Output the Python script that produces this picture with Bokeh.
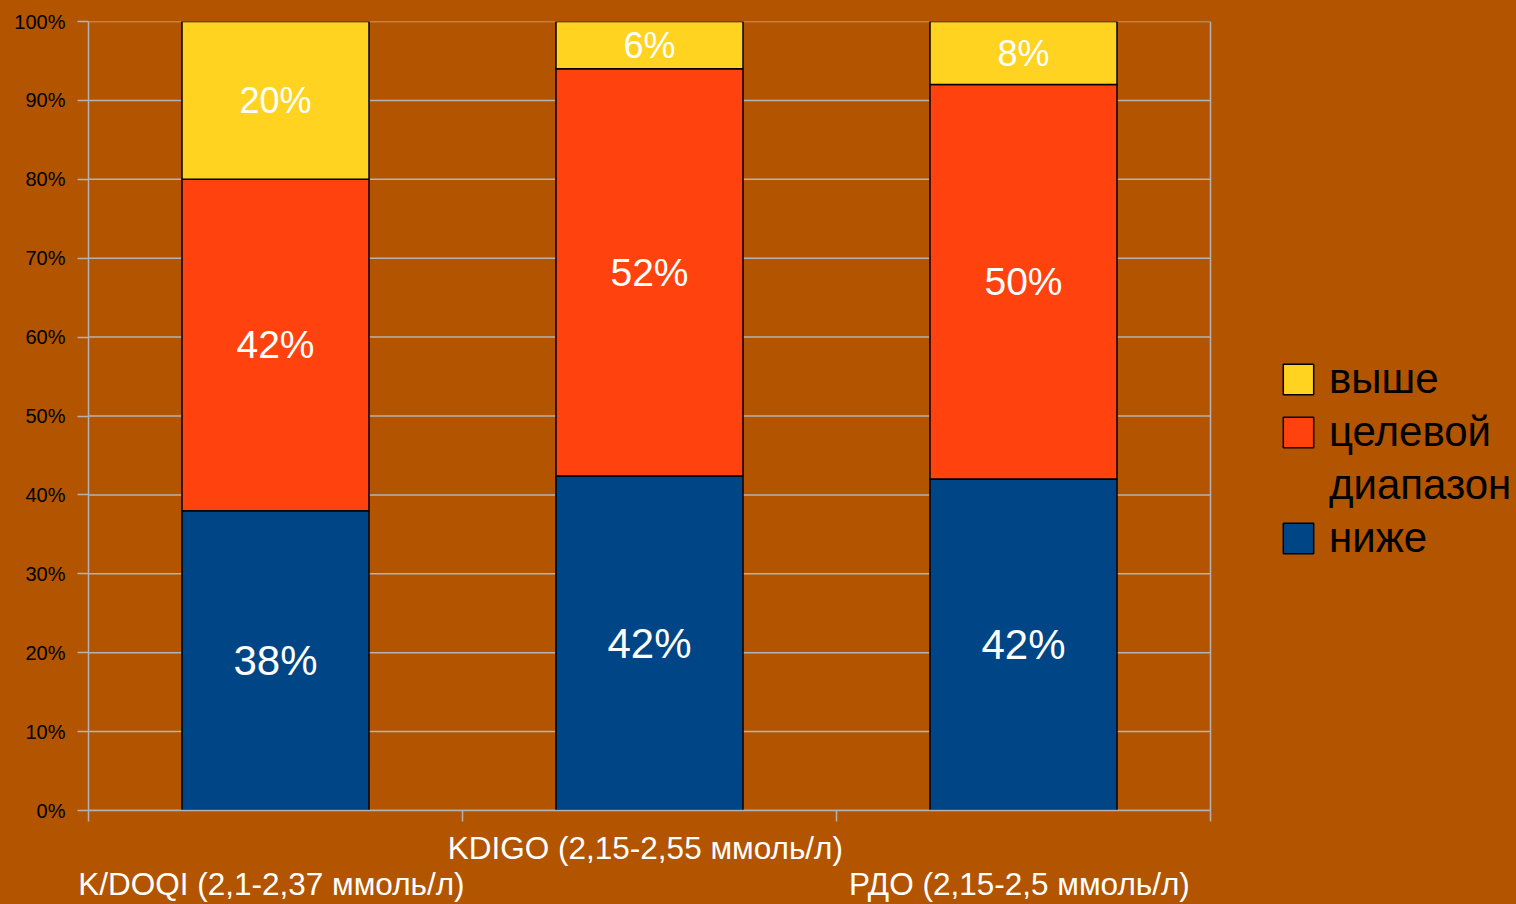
from bokeh.plotting import figure
from bokeh.models import (ColumnDataSource, FixedTicker, Legend, LegendItem, LinearAxis,
                          CustomJSTickFormatter, Range1d)
from bokeh.core.properties import value
from bokeh.embed import file_html
from bokeh.resources import INLINE

# ---- data ----
categories = ["K/DOQI (2,1-2,37 ммоль/л)", "KDIGO (2,15-2,55 ммоль/л)", "РДО (2,15-2,5 ммоль/л)"]
below = [38, 42.4, 42]      # ниже
target = [42, 51.6, 50]     # целевой диапазон
above = [20, 6.0, 8]        # выше
legend_labels = ["выше", "целевой", "диапазон", "ниже"]
y_ticks = [0, 10, 20, 30, 40, 50, 60, 70, 80, 90, 100]

colors = ["#004586", "#FF420E", "#FFD320"]
BG = "#B25400"
GRID = "#B3B3B3"
FONT = "Liberation Sans"

W, H = 1516, 904
LEFT, TOP, BOTTOM = 88, 21, 92
CAT_PX = 374  # pixel width of one category slot
n = len(categories)
frame_w = W - LEFT

xs = [i + 0.5 for i in range(n)]
src = ColumnDataSource(dict(x=xs, below=below, target=target, above=above))

p = figure(width=W, height=H, x_range=Range1d(0, frame_w / CAT_PX), y_range=Range1d(0, 100),
           output_backend="svg", toolbar_location=None,
           min_border_left=LEFT, min_border_right=0, min_border_top=TOP,
           min_border_bottom=BOTTOM)
p.background_fill_alpha = 0
p.border_fill_alpha = 0
p.styles = {"background-color": BG}
p.outline_line_color = None

# grid lines limited to the category area, plus right border
p.xgrid.visible = False
p.ygrid.visible = False
gsrc = ColumnDataSource(dict(y=y_ticks, x0=[0] * len(y_ticks), x1=[n] * len(y_ticks)))
p.segment(x0="x0", y0="y", x1="x1", y1="y", source=gsrc, line_color=GRID, line_width=1.5)
p.segment(x0=[n], y0=[0], x1=[n], y1=[100], line_color=GRID, line_width=1.5)

renderers = p.vbar_stack(["below", "target", "above"], x="x", width=0.5, source=src,
                         fill_color=colors, line_color="black", line_width=1.5)

# y axis
ya = p.yaxis[0]
ya.ticker = FixedTicker(ticks=y_ticks)
ya.formatter = CustomJSTickFormatter(code="return tick.toFixed(0) + '%';")
ya.axis_line_color = GRID
ya.axis_line_width = 1.5
ya.major_tick_line_color = GRID
ya.major_tick_line_width = 1.5
ya.major_tick_out = 11
ya.major_tick_in = 0
ya.minor_tick_line_color = None
ya.major_label_text_font = FONT
ya.major_label_text_font_size = "20px"
ya.major_label_text_color = "black"
ya.major_label_standoff = 12

# x axis: boundary ticks only
xa = p.xaxis[0]
xa.bounds = (0, n)
xa.ticker = FixedTicker(ticks=list(range(n + 1)))
xa.formatter = CustomJSTickFormatter(code="return '';")
xa.axis_line_color = GRID
xa.axis_line_width = 1.5
xa.major_tick_line_color = GRID
xa.major_tick_line_width = 1.5
xa.major_tick_out = 11
xa.major_tick_in = 0
xa.minor_tick_line_color = None
xa.major_label_standoff = 0


def label_axis(ticks, standoff):
    ax = LinearAxis(ticker=FixedTicker(ticks=ticks),
                    formatter=CustomJSTickFormatter(args=dict(names=categories),
                                                    code="return names[Math.floor(tick)];"))
    ax.axis_line_color = None
    ax.major_tick_line_color = None
    ax.minor_tick_line_color = None
    ax.major_tick_out = 0
    ax.major_tick_in = 0
    ax.major_label_standoff = standoff
    ax.major_label_text_font = FONT
    ax.major_label_text_font_size = "31.5px"
    ax.major_label_text_color = "white"
    return ax


p.add_layout(label_axis([1.489], 8), "below")
p.add_layout(label_axis([0.489, 2.489], -3), "below")

# value labels
cum0 = [0] * n
lab_x, lab_y, lab_t, lab_s = [], [], [], []
for vals, size in [(below, "42px"), (target, "39px"), (above, "36px")]:
    for i, v in enumerate(vals):
        lab_x.append(xs[i])
        lab_y.append(cum0[i] + v / 2)
        lab_t.append(f"{round(v)}%")
        lab_s.append(size)
        cum0[i] += v
lsrc = ColumnDataSource(dict(x=lab_x, y=lab_y, t=lab_t, s=lab_s))
p.text(x="x", y="y", text="t", source=lsrc, text_align="center", text_baseline="middle",
       text_color="white", text_font=value(FONT), text_font_size="s")

# legend
items = [LegendItem(label=legend_labels[0], renderers=[renderers[2]]),
         LegendItem(label=legend_labels[1], renderers=[renderers[1]]),
         LegendItem(label=legend_labels[2], renderers=[]),
         LegendItem(label=legend_labels[3], renderers=[renderers[0]])]
legend = Legend(items=items, location=(1191, 248), glyph_width=38, glyph_height=38,
                label_text_font=FONT, label_text_font_size="42px", label_text_color="black",
                background_fill_alpha=0, border_line_color=None, spacing=5,
                label_standoff=12, padding=0, margin=0)
p.add_layout(legend)

open("out.html", "w").write(file_html(p, INLINE))
